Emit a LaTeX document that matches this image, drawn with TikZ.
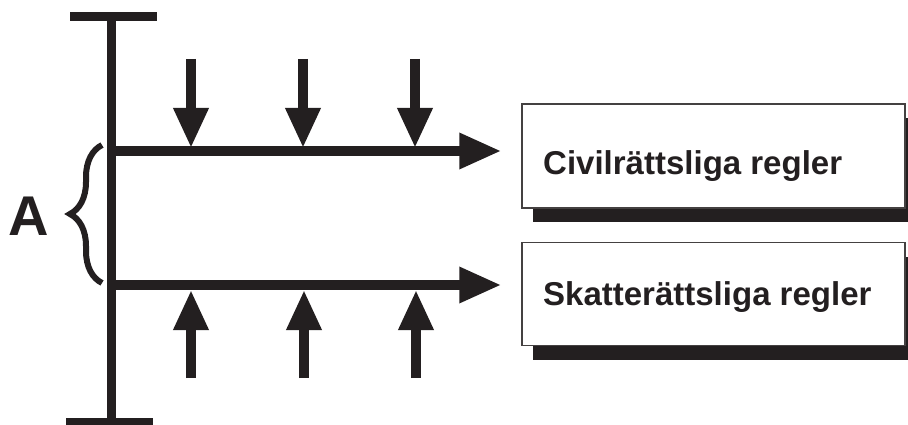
\documentclass[tikz,border=0pt]{standalone}
\usepackage{fontspec}
\setmainfont{Liberation Sans}
\usepackage{xcolor}
\usetikzlibrary{arrows.meta,shadows,positioning,decorations.pathreplacing}
\definecolor{ink}{HTML}{231F20}
\tikzstyle{beam} = [draw=ink, line width=9pt]
\tikzstyle{mainarrow} = [draw=ink, line width=9.5pt, -{Triangle[length=42pt,width=34pt]}]
\tikzstyle{force} = [draw=ink, line width=9.5pt, -{Triangle[length=40pt,width=33pt]}]
\tikzstyle{rulebox} = [rectangle, draw=ink!85, line width=1.5pt, fill=white,
  minimum width=383pt, minimum height=104pt,
  drop shadow={fill=ink, opacity=1, shadow xshift=11pt, shadow yshift=-14pt}]
\tikzstyle{ruletext} = [font=\fontsize{33}{38}\selectfont\bfseries, text=ink, anchor=base west, inner sep=0pt]

\begin{document}
\begin{tikzpicture}[x=1pt,y=-1pt]
  \useasboundingbox (0,0) rectangle (908,425);

  % the axis with its two end bars
  \coordinate (axtop) at (111,17);
  \coordinate (axbot) at (111,422);
  \coordinate (bartopl) at (70,17);
  \coordinate (bartopr) at (157,17);
  \coordinate (barbotl) at (66,422);
  \coordinate (barbotr) at (153,422);
  \draw[beam] (axtop) -- (axbot);
  \draw[beam] (bartopl) -- (bartopr);
  \draw[beam] (barbotl) -- (barbotr);

  % the two rule boxes
  \node[rulebox] (civbox) at (713.5,156) {};
  \node[rulebox, minimum height=103pt] (skattbox) [below=33pt of civbox] {};
  \node[ruletext] (civtext) at (543,175) {Civilrättsliga regler};
  \node[ruletext] (skatttext) at (543,305) {Skatterättsliga regler};

  % the two main arrows
  \coordinate (civ) at (111,151);
  \coordinate (skatt) at (111,285);
  \draw[mainarrow, shorten >=20pt] (civ) -- (civ -| civbox.west);
  \draw[mainarrow, shorten >=20pt] (skatt) -- (skatt -| skattbox.west);

  % forces from above
  \coordinate (d1) at (191,59);
  \coordinate (d2) at (303,59);
  \coordinate (d3) at (415,59);
  \draw[force, shorten >=3pt] (d1) -- (d1 |- civ);
  \draw[force, shorten >=3pt] (d2) -- (d2 |- civ);
  \draw[force, shorten >=3pt] (d3) -- (d3 |- civ);

  % forces from below
  \coordinate (u1) at (191,378);
  \coordinate (u2) at (304,378);
  \coordinate (u3) at (416,378);
  \draw[force, shorten >=5pt] (u1) -- (u1 |- skatt);
  \draw[force, shorten >=5pt] (u2) -- (u2 |- skatt);
  \draw[force, shorten >=5pt] (u3) -- (u3 |- skatt);

  % the brace A
  \coordinate (brbot) at (102,283);
  \coordinate (brtop) at (102,145);
  \draw[ink, line width=6pt, decorate, decoration={brace, amplitude=32pt}] (brbot) -- (brtop);
  \node[font=\fontsize{56}{60}\selectfont\bfseries, text=ink, inner sep=0pt] (alabel) at (29,216) {A};
\end{tikzpicture}
\end{document}
